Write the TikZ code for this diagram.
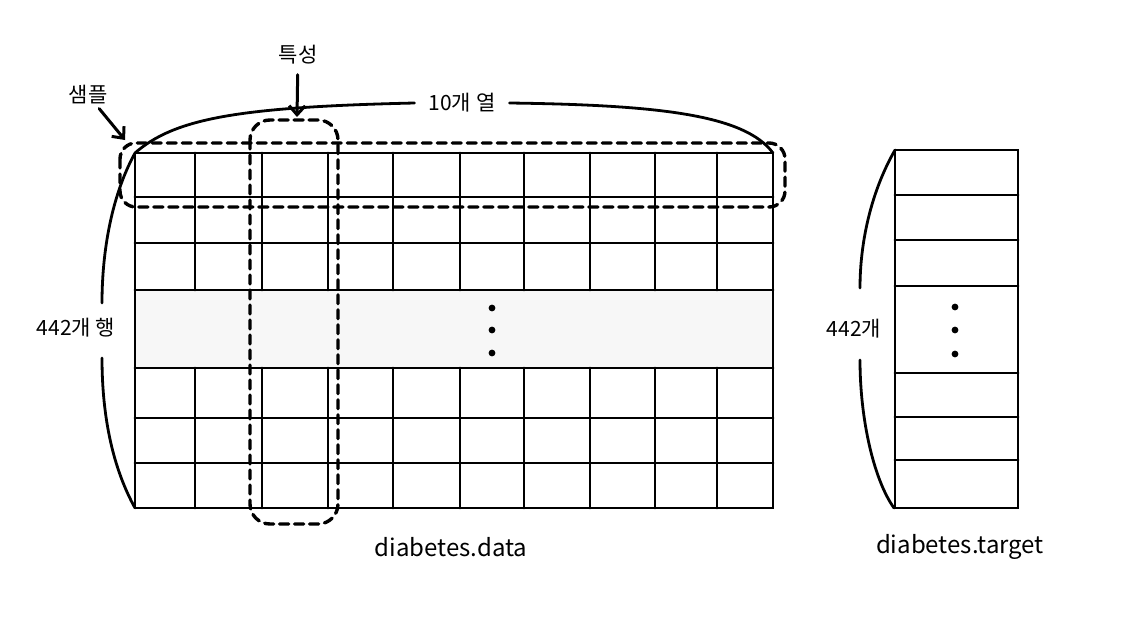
\documentclass[tikz,border=0pt]{standalone}
\usepackage{fontspec}
\setmainfont{Noto Sans CJK KR}
\usetikzlibrary{arrows.meta}
\tikzset{
  gridline/.style={line width=2.8pt},
  dashbox/.style={line width=3.4pt, dash pattern=on 9pt off 6pt, rounded corners=16pt},
  brace/.style={line width=2.8pt},
  lbl/.style={font=\fontsize{21}{25}\selectfont, inner sep=4pt},
  namelbl/.style={font=\fontsize{24}{28}\selectfont},
}
\begin{document}
\begin{tikzpicture}[x=1pt, y=-1pt, >={Straight Barb[length=9pt,width=16pt]}, line cap=round]
		\useasboundingbox (0,0) rectangle (1121,624);
		% coins
		\coordinate (dataNW) at (135,153);
		\coordinate (dataNE) at (773,153);
		\coordinate (dataSW) at (135,508);
		\coordinate (targetNW) at (895,150);
		\coordinate (targetSW) at (894,508);
		% bande grise
		\fill[black!3] (135,290) rectangle (773,368);
		% tableau data
		\draw[gridline] (dataNW) rectangle (773,508);
		\foreach \y in {197,243,290,368,418,463}
			\draw[gridline] (135,\y) -- (773,\y);
		\foreach \x in {195,262,328,393,460,524,590,655,717} {
			\draw[gridline] (\x,153) -- (\x,290);
			\draw[gridline] (\x,368) -- (\x,508);
		}
		\foreach \y in {308,330,353}
			\fill (492,\y) circle (3.4);
		% tableau target
		\draw[gridline] (targetNW) rectangle (1018,508);
		\foreach \y in {195,240,286,373,417,460}
			\draw[gridline] (895,\y) -- (1018,\y);
		\foreach \y in {307,330,354}
			\fill (955,\y) circle (3.4);
		% pointillés
		\draw[dashbox] (120,143) rectangle (785,207);
		\draw[dashbox, rounded corners=20pt] (250,120) rectangle (338,524);
		% étiquettes
		\node[lbl] (sampleLabel) at (88,95) {샘플};
		\node[lbl] (featureLabel) at (298,55) {특성};
		\node[lbl, inner xsep=14pt] (colsLabel) at (462,103) {10개 열};
		\node[lbl] (rowsLabel) at (76,328) {442개 행};
		\node[lbl] (targetRowsLabel) at (854,329) {442개};
		\node[namelbl] (dataLabel) at (451,547) {diabetes.data};
		\node[namelbl] (targetLabel) at (960,547) {diabetes.target};
		\coordinate (sampleTip) at (125,140);
		\coordinate (featureTip) at (297,117);
		\coordinate (rowsTop) at (102,303);
		\coordinate (rowsBottom) at (102,358);
		\coordinate (targetTop) at (860,288);
		\coordinate (targetBottom) at (860,360);
		% flèches
		\draw[->, line width=3pt] (sampleLabel) -- (sampleTip);
		\draw[->, line width=3pt, shorten <=6pt] (featureLabel) -- (featureTip);
		% accolades
		\draw[brace] (dataNW) .. controls (175,118) and (240,107) .. (colsLabel.west);
		\draw[brace] (colsLabel.east) .. controls (660,105) and (745,115) .. (dataNE);
		\draw[brace] (dataNW) .. controls (112,195) and (102,250) .. (rowsTop);
		\draw[brace] (rowsBottom) .. controls (102,420) and (114,470) .. (dataSW);
		\draw[brace] (targetNW) .. controls (872,190) and (860,240) .. (targetTop);
		\draw[brace] (targetBottom) .. controls (860,420) and (874,480) .. (targetSW);
	\end{tikzpicture}
\end{document}
